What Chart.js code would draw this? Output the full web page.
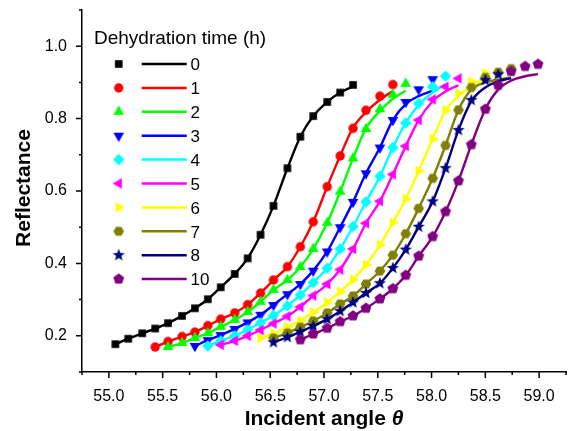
<!DOCTYPE html>
<html>
<head>
<meta charset="utf-8">
<script src="https://cdn.jsdelivr.net/npm/chart.js@4/dist/chart.umd.min.js"></script>
<style>
  html, body { margin: 0; padding: 0; background: #fff; }
  #reflectChart { display: block; }
</style>
</head>
<body>
<canvas id="reflectChart" width="572" height="431"></canvas>
<script>
// incident angles (deg) shared by all curves
const angle = [55.06, 55.18, 55.31, 55.43, 55.55, 55.68, 55.80, 55.92, 56.04, 56.17, 56.29,
  56.41, 56.53, 56.66, 56.78, 56.90, 57.03, 57.15, 57.27, 57.39, 57.52, 57.64, 57.76,
  57.88, 58.01, 58.13, 58.25, 58.37, 58.50, 58.62, 58.74, 58.87, 58.99];

const seriesLabels = ['0', '1', '2', '3', '4', '5', '6', '7', '8', '10'];
const seriesColors = ['#000000', '#ff0000', '#00ff00', '#0000ff', '#00ffff',
  '#ff00ff', '#ffff00', '#808000', '#000080', '#800080'];
const seriesShapes = ['square', 'circle', 'triUp', 'triDown', 'diamond',
  'triLeft', 'triRight', 'hexagon', 'star', 'pentagon'];
// index into angle[] of each curve's first point
const seriesStart = [0, 3, 4, 6, 7, 8, 11, 12, 12, 14];

// measured reflectance
const refl0 = [0.177, 0.192, 0.207, 0.220, 0.235, 0.255, 0.276, 0.301, 0.334, 0.371, 0.414, 0.479, 0.559, 0.663, 0.750, 0.807, 0.846, 0.872, 0.893];
const refl1 = [0.169, 0.184, 0.198, 0.210, 0.228, 0.246, 0.263, 0.286, 0.318, 0.354, 0.391, 0.446, 0.515, 0.612, 0.697, 0.773, 0.823, 0.862, 0.894];
const refl2 = [0.169, 0.180, 0.194, 0.207, 0.225, 0.244, 0.266, 0.294, 0.327, 0.354, 0.390, 0.440, 0.512, 0.598, 0.690, 0.771, 0.826, 0.866, 0.896];
const refl3 = [0.172, 0.188, 0.202, 0.219, 0.237, 0.258, 0.285, 0.315, 0.343, 0.380, 0.433, 0.500, 0.570, 0.649, 0.720, 0.796, 0.846, 0.881, 0.909];
const refl4 = [0.172, 0.186, 0.200, 0.217, 0.236, 0.256, 0.283, 0.313, 0.347, 0.387, 0.440, 0.502, 0.570, 0.641, 0.720, 0.788, 0.842, 0.888, 0.917];
const refl5 = [0.175, 0.186, 0.200, 0.216, 0.234, 0.254, 0.280, 0.311, 0.343, 0.383, 0.440, 0.511, 0.572, 0.646, 0.724, 0.796, 0.853, 0.888, 0.911];
const refl6 = [0.194, 0.207, 0.224, 0.242, 0.265, 0.292, 0.322, 0.355, 0.396, 0.451, 0.513, 0.578, 0.655, 0.744, 0.823, 0.870, 0.902, 0.925];
const refl7 = [0.194, 0.208, 0.224, 0.241, 0.263, 0.288, 0.310, 0.343, 0.379, 0.423, 0.482, 0.552, 0.635, 0.726, 0.824, 0.886, 0.914, 0.928, 0.938];
const refl8 = [0.182, 0.196, 0.211, 0.227, 0.246, 0.268, 0.292, 0.318, 0.345, 0.387, 0.438, 0.501, 0.571, 0.663, 0.768, 0.851, 0.906, 0.922];
const refl10 = [0.189, 0.205, 0.221, 0.239, 0.255, 0.276, 0.302, 0.330, 0.367, 0.420, 0.474, 0.543, 0.628, 0.728, 0.826, 0.892, 0.930, 0.944, 0.950];

// fitted curves (same angles, they sag a little below the points at the top)
const fit0 = [0.177, 0.192, 0.207, 0.220, 0.235, 0.255, 0.276, 0.301, 0.334, 0.371, 0.414, 0.479, 0.559, 0.663, 0.750, 0.807, 0.846, 0.872, 0.889];
const fit1 = [0.169, 0.184, 0.198, 0.210, 0.228, 0.246, 0.263, 0.286, 0.318, 0.354, 0.391, 0.446, 0.515, 0.612, 0.697, 0.775, 0.818, 0.852, 0.876];
const fit2 = [0.169, 0.180, 0.194, 0.207, 0.225, 0.244, 0.266, 0.294, 0.327, 0.354, 0.390, 0.440, 0.512, 0.598, 0.690, 0.773, 0.821, 0.855, 0.877];
const fit3 = [0.172, 0.188, 0.202, 0.219, 0.237, 0.258, 0.285, 0.315, 0.343, 0.380, 0.433, 0.500, 0.570, 0.649, 0.720, 0.796, 0.840, 0.862, 0.877];
const fit4 = [0.172, 0.186, 0.200, 0.217, 0.236, 0.256, 0.283, 0.313, 0.347, 0.387, 0.440, 0.502, 0.570, 0.641, 0.720, 0.788, 0.838, 0.872, 0.895];
const fit5 = [0.175, 0.186, 0.200, 0.216, 0.234, 0.254, 0.280, 0.311, 0.343, 0.383, 0.440, 0.511, 0.572, 0.646, 0.724, 0.796, 0.848, 0.875, 0.892];
const fit6 = [0.194, 0.207, 0.224, 0.242, 0.265, 0.292, 0.322, 0.355, 0.396, 0.451, 0.513, 0.578, 0.655, 0.744, 0.823, 0.862, 0.890, 0.912];
const fit7 = [0.194, 0.208, 0.224, 0.241, 0.263, 0.288, 0.310, 0.343, 0.379, 0.423, 0.482, 0.552, 0.635, 0.726, 0.824, 0.880, 0.900, 0.908, 0.913];
const fit8 = [0.182, 0.196, 0.211, 0.227, 0.246, 0.268, 0.292, 0.318, 0.345, 0.387, 0.438, 0.501, 0.571, 0.663, 0.768, 0.848, 0.886, 0.903, 0.912];
const fit10 = [0.189, 0.205, 0.221, 0.239, 0.255, 0.276, 0.302, 0.330, 0.367, 0.420, 0.474, 0.543, 0.628, 0.728, 0.826, 0.880, 0.905, 0.917, 0.923];

const measured = [refl0, refl1, refl2, refl3, refl4, refl5, refl6, refl7, refl8, refl10];
const fitted = [fit0, fit1, fit2, fit3, fit4, fit5, fit6, fit7, fit8, fit10];

const FONT = '"Liberation Sans", Arial, Helvetica, sans-serif';

function polygonPath(g, n, r, rotDeg) {
  for (let i = 0; i < n; i++) {
    const a = (rotDeg + i * 360 / n) * Math.PI / 180;
    const px = r * Math.sin(a), py = -r * Math.cos(a);
    if (i === 0) g.moveTo(px, py); else g.lineTo(px, py);
  }
  g.closePath();
}

// small canvas used as the point style for each curve
function makeMarker(shape, color) {
  const c = document.createElement('canvas');
  c.width = 16;
  c.height = 16;
  const g = c.getContext('2d');
  g.fillStyle = color;
  g.translate(8, 8);
  g.beginPath();
  if (shape === 'square') g.rect(-3.8, -3.8, 7.6, 7.6);
  else if (shape === 'circle') g.arc(0, 0, 4.7, 0, Math.PI * 2);
  else if (shape === 'triUp') polygonPath(g, 3, 6.2, 0);
  else if (shape === 'triDown') polygonPath(g, 3, 6.2, 180);
  else if (shape === 'triLeft') polygonPath(g, 3, 6.2, -90);
  else if (shape === 'triRight') polygonPath(g, 3, 6.2, 90);
  else if (shape === 'diamond') polygonPath(g, 4, 5.7, 0);
  else if (shape === 'hexagon') polygonPath(g, 6, 5.3, 30);
  else if (shape === 'pentagon') polygonPath(g, 5, 5.7, 0);
  else if (shape === 'star') {
    for (let i = 0; i < 10; i++) {
      const r = i % 2 === 0 ? 6.5 : 2.7;
      const a = i * Math.PI / 5;
      if (i === 0) g.moveTo(r * Math.sin(a), -r * Math.cos(a));
      else g.lineTo(r * Math.sin(a), -r * Math.cos(a));
    }
    g.closePath();
  }
  g.fill();
  return c;
}

const markers = seriesShapes.map((s, i) => makeMarker(s, seriesColors[i]));

function toPoints(start, ys) {
  return ys.map((v, j) => ({ x: angle[start + j], y: v }));
}

const datasets = [];
seriesLabels.forEach((label, i) => {
  datasets.push({
    type: 'line',
    label: label + ' fit',
    data: toPoints(seriesStart[i], fitted[i]),
    borderColor: seriesColors[i],
    borderWidth: 2.4,
    pointRadius: 0,
    fill: false,
    cubicInterpolationMode: 'monotone',
    order: (9 - i) * 2 + 1
  });
  datasets.push({
    type: 'scatter',
    label: label,
    data: toPoints(seriesStart[i], measured[i]),
    pointStyle: markers[i],
    pointRadius: 5,
    showLine: false,
    order: (9 - i) * 2
  });
});

const isMajorX = v => Math.round(v * 4) % 2 === 0;
const isMajorY = v => Math.round(v * 10) % 2 === 0;

// keep the plot area where the reference has it, no room reserved for end labels
function fixX(s) {
  s.height = 59;
  s.paddingLeft = 0;
  s.paddingRight = 0;
}
function fixY(s) {
  s.width = 82;
  s.paddingTop = 0;
  s.paddingBottom = 0;
}

// ticks, axis titles and the legend box
const decorPlugin = {
  id: 'decor',
  afterDraw(chart) {
    const ctx = chart.ctx;
    const xs = chart.scales.x;
    const ys = chart.scales.y;
    const area = chart.chartArea;

    ctx.save();
    ctx.strokeStyle = '#000';
    ctx.lineWidth = 1.5;
    ctx.beginPath();
    xs.ticks.forEach(t => {
      const px = xs.getPixelForValue(t.value);
      const len = isMajorX(t.value) ? 6 : 3;
      ctx.moveTo(px, area.bottom);
      ctx.lineTo(px, area.bottom + len);
    });
    ys.ticks.forEach(t => {
      const py = ys.getPixelForValue(t.value);
      const len = isMajorY(t.value) ? 6 : 3;
      ctx.moveTo(area.left, py);
      ctx.lineTo(area.left - len, py);
    });
    ctx.stroke();

    // x title: "Incident angle" bold, theta bold italic
    ctx.fillStyle = '#000';
    ctx.textBaseline = 'alphabetic';
    ctx.textAlign = 'left';
    const part1 = 'Incident angle ';
    const part2 = 'θ';
    ctx.font = 'bold 21px ' + FONT;
    const w1 = ctx.measureText(part1).width;
    ctx.font = 'italic bold 21px ' + FONT;
    const w2 = ctx.measureText(part2).width;
    const tx = (area.left + area.right) / 2 - (w1 + w2) / 2;
    ctx.font = 'bold 21px ' + FONT;
    ctx.fillText(part1, tx, 425);
    ctx.font = 'italic bold 21px ' + FONT;
    ctx.fillText(part2, tx + w1, 425);

    // y title
    ctx.save();
    ctx.translate(29.5, 188);
    ctx.rotate(-Math.PI / 2);
    ctx.font = 'bold 21px ' + FONT;
    ctx.textAlign = 'center';
    ctx.fillText('Reflectance', 0, 0);
    ctx.restore();

    // legend
    ctx.textAlign = 'left';
    ctx.font = '19px ' + FONT;
    ctx.fillText('Dehydration time (h)', 94, 44);
    ctx.font = '17px ' + FONT;
    seriesLabels.forEach((label, i) => {
      const rowY = 64 + 23.9 * i;
      ctx.drawImage(markers[i], 118.7 - 8, rowY - 8);
      ctx.strokeStyle = seriesColors[i];
      ctx.lineWidth = 2.5;
      ctx.beginPath();
      ctx.moveTo(141.7, rowY);
      ctx.lineTo(186.7, rowY);
      ctx.stroke();
      ctx.fillStyle = '#000';
      ctx.fillText(label, 190.5, rowY + 6.2);
    });
    ctx.restore();
  }
};

new Chart(document.getElementById('reflectChart'), {
  data: { datasets: datasets },
  plugins: [decorPlugin],
  options: {
    responsive: false,
    animation: false,
    layout: { padding: { top: 10, right: 1, left: 0, bottom: 0 } },
    plugins: {
      legend: { display: false },
      tooltip: { enabled: false }
    },
    scales: {
      x: {
        type: 'linear',
        min: 54.75,
        max: 59.25,
        afterFit: fixX,
        grid: { drawOnChartArea: false, drawTicks: false },
        border: { color: '#000', width: 1.5 },
        ticks: {
          stepSize: 0.25,
          autoSkip: false,
          maxRotation: 0,
          padding: 15,
          color: '#000',
          font: { family: FONT, size: 16 },
          callback: v => isMajorX(v) ? v.toFixed(1) : ''
        }
      },
      y: {
        type: 'linear',
        min: 0.1,
        max: 1.1,
        afterFit: fixY,
        grid: { drawOnChartArea: false, drawTicks: false },
        border: { color: '#000', width: 1.5 },
        ticks: {
          stepSize: 0.1,
          autoSkip: false,
          padding: 15,
          color: '#000',
          font: { family: FONT, size: 16 },
          callback: v => isMajorY(v) ? v.toFixed(1) : ''
        }
      }
    }
  }
});
</script>
</body>
</html>
